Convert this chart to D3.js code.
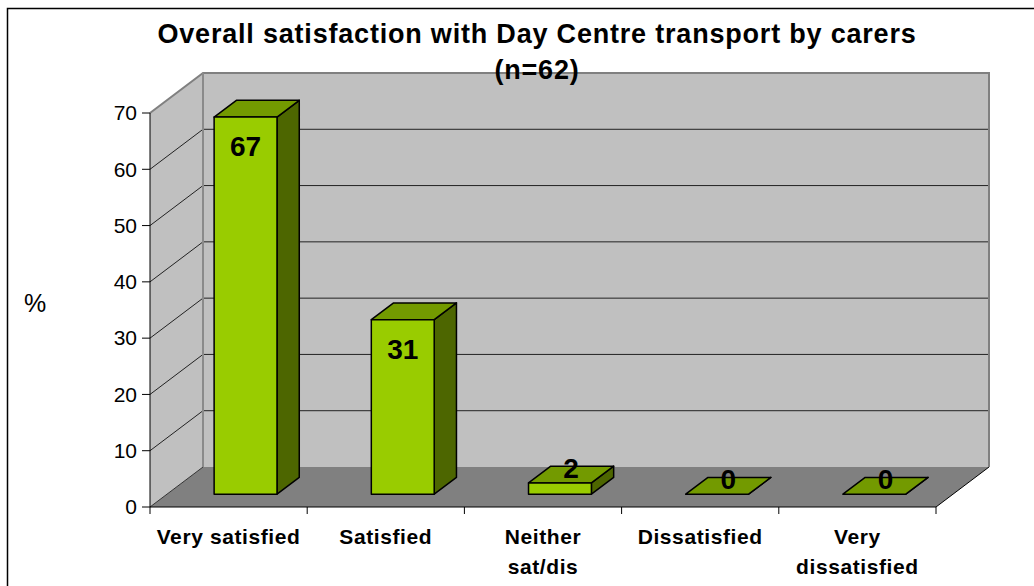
<!DOCTYPE html>
<html>
<head>
<meta charset="utf-8">
<script src="https://cdn.jsdelivr.net/npm/d3@7"></script>
<style>
  body { margin: 0; background: #fff; }
  svg { display: block; font-family: Arial, "Liberation Sans", sans-serif; }
</style>
</head>
<body>
<div id="chart"></div>
<script>
// chart data
const categories = ["Very satisfied", "Satisfied", "Neither sat/dis", "Dissatisfied", "Very dissatisfied"];
const categoryLines = [["Very satisfied"], ["Satisfied"], ["Neither", "sat/dis"], ["Dissatisfied"], ["Very", "dissatisfied"]];
const values = [67, 31, 2, 0, 0];
const yTicks = [0, 10, 20, 30, 40, 50, 60, 70];
const titleLines = ["Overall satisfaction with Day Centre transport by carers", "(n=62)"];

window.onload = () => {
  var width = 1034
  var height = 586

  // oblique 3d: the back of the box is shifted by dx, dy
  var dx = 53, dy = -40
  var zFront = 0.32, zBack = 0.74

  var x = d3.scaleBand().domain(categories).range([150, 936])
  var y = d3.scaleLinear().domain([0, 70]).range([507, 113])

  var p = (px, py, z) => [px + dx * z, py + dy * z]
  var poly = pts => "M" + pts.map(q => q.join(",")).join("L") + "Z"

  var svg = d3.select("#chart")
    .append("svg")
    .attr("width", width)
    .attr("height", height)

  // outer frame
  svg.append("rect")
    .attr("x", 7.5).attr("y", 8.5)
    .attr("width", 1040).attr("height", 600)
    .attr("fill", "none").attr("stroke", "#000").attr("stroke-width", 1.5)

  var x0 = x.range()[0], x1 = x.range()[1]
  var y0 = y(0), yTop = y(70)

  // walls
  svg.append("path")
    .attr("d", poly([p(x0, yTop, 1), p(x1, yTop, 1), p(x1, y0, 1), p(x0, y0, 1)]))
    .attr("fill", "#c0c0c0")
  svg.append("path")
    .attr("d", poly([p(x0, yTop, 0), p(x0, yTop, 1), p(x0, y0, 1), p(x0, y0, 0)]))
    .attr("fill", "#c0c0c0")

  // gridlines on left and back wall
  var grid = svg.append("g").attr("stroke", "#222").attr("fill", "none")
  yTicks.filter(t => t > 0 && t < 70).forEach(t => {
    grid.append("path")
      .attr("d", "M" + p(x0, y(t), 0) + "L" + p(x0, y(t), 1) + "L" + p(x1, y(t), 1))
  })

  // floor
  svg.append("path")
    .attr("d", poly([p(x0, y0, 0), p(x1, y0, 0), p(x1, y0, 1), p(x0, y0, 1)]))
    .attr("fill", "#808080")
  svg.append("path")
    .attr("d", "M" + p(x0, y0, 0) + "L" + p(x0, y0, 1))
    .attr("stroke", "#333").attr("fill", "none")
  svg.append("path")
    .attr("d", "M" + p(x1, y0, 0) + "L" + p(x1, y0, 1))
    .attr("stroke", "#000").attr("fill", "none")

  // wall edges
  svg.append("path")
    .attr("d", "M" + p(x0, yTop, 0) + "L" + p(x0, yTop, 1) + "L" + p(x1, yTop, 1) + "L" + p(x1, y0, 1))
    .attr("stroke", "#808080").attr("stroke-width", 2).attr("fill", "none")
  svg.append("path")
    .attr("d", "M" + p(x0, yTop, 1) + "L" + p(x0, y0, 1))
    .attr("stroke", "#8a8a8a").attr("stroke-width", 2).attr("fill", "none")

  // bars
  var bw = x.bandwidth() * 0.4
  var bars = svg.append("g")
    .attr("stroke", "#000").attr("stroke-width", 1.5).attr("stroke-linejoin", "round")
  categories.forEach((c, i) => {
    var l = x(c) + (x.bandwidth() - bw) / 2, r = l + bw
    var yt = y(values[i]), yb = y(0)
    // side
    bars.append("path")
      .attr("d", poly([p(r, yt, zFront), p(r, yt, zBack), p(r, yb, zBack), p(r, yb, zFront)]))
      .attr("fill", "#4d6600")
    // top
    bars.append("path")
      .attr("d", poly([p(l, yt, zFront), p(r, yt, zFront), p(r, yt, zBack), p(l, yt, zBack)]))
      .attr("fill", "#739a00")
    // front
    if (values[i] > 0) {
      bars.append("path")
        .attr("d", poly([p(l, yt, zFront), p(r, yt, zFront), p(r, yb, zFront), p(l, yb, zFront)]))
        .attr("fill", "#99cc00")
    }
  })

  // value labels
  categories.forEach((c, i) => {
    var cx = x(c) + x.bandwidth() / 2
    var v = values[i]
    var pos
    if (v >= 10) {
      pos = p(cx, y(v), zFront)
      pos[1] += 39
    } else {
      pos = p(cx, y(v), (zFront + zBack) / 2)
      pos[1] += 3
    }
    svg.append("text")
      .attr("x", pos[0]).attr("y", pos[1])
      .attr("text-anchor", "middle")
      .attr("font-size", 28).attr("font-weight", "bold")
      .text(v)
  })

  // y axis
  svg.append("line")
    .attr("x1", x0).attr("x2", x0).attr("y1", y0).attr("y2", yTop)
    .attr("stroke", "#000")
  var yAxis = svg.append("g")
  yTicks.forEach(t => {
    yAxis.append("line")
      .attr("x1", x0 - 8).attr("x2", x0).attr("y1", y(t)).attr("y2", y(t))
      .attr("stroke", "#000")
    yAxis.append("text")
      .attr("x", x0 - 13).attr("y", y(t)).attr("dy", "0.35em")
      .attr("text-anchor", "end").attr("font-size", 21)
      .text(t)
  })

  // x axis
  svg.append("line")
    .attr("x1", x0).attr("x2", x1).attr("y1", y0).attr("y2", y0)
    .attr("stroke", "#000")
  var edges = categories.map(c => x(c)).concat([x1])
  edges.forEach(e => {
    svg.append("line")
      .attr("x1", e).attr("x2", e).attr("y1", y0).attr("y2", y0 + 7)
      .attr("stroke", "#000")
  })
  categories.forEach((c, i) => {
    var t = svg.append("text")
      .attr("x", x(c) + x.bandwidth() / 2).attr("y", 544)
      .attr("text-anchor", "middle")
      .attr("font-size", 21).attr("font-weight", "bold")
      .attr("letter-spacing", 0.6)
    categoryLines[i].forEach((line, k) => {
      t.append("tspan")
        .attr("x", x(c) + x.bandwidth() / 2)
        .attr("dy", k == 0 ? 0 : 30)
        .text(line)
    })
  })

  // axis title
  svg.append("text")
    .attr("x", 35).attr("y", 303).attr("dy", "0.35em")
    .attr("text-anchor", "middle").attr("font-size", 25)
    .text("%")

  // title
  titleLines.forEach((line, k) => {
    svg.append("text")
      .attr("x", 537).attr("y", 43 + k * 36)
      .attr("text-anchor", "middle")
      .attr("font-size", 27).attr("font-weight", "bold")
      .attr("letter-spacing", 0.8)
      .text(line)
  })
}
</script>
</body>
</html>
